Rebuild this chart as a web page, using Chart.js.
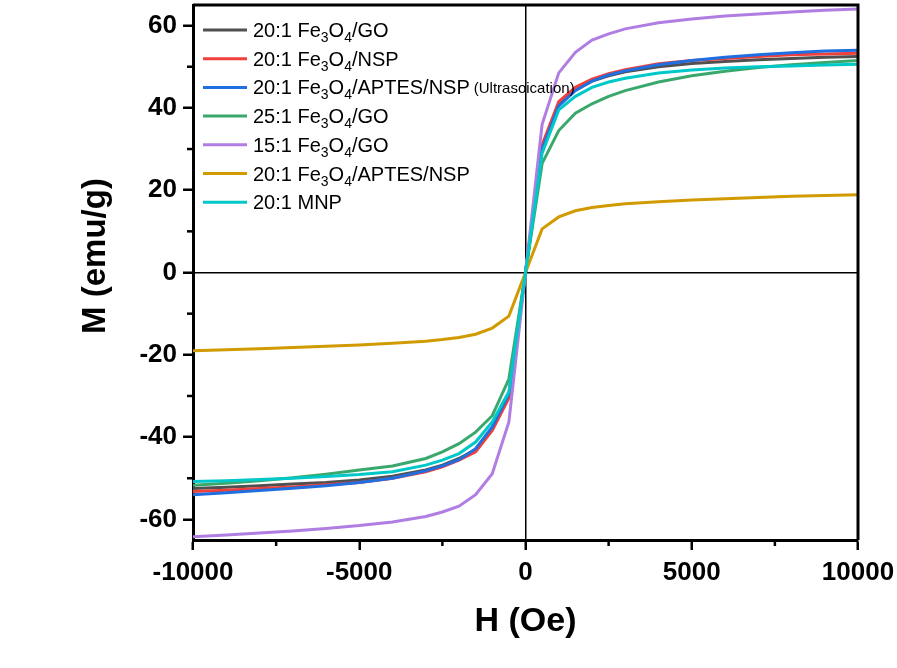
<!DOCTYPE html>
<html>
<head>
<meta charset="utf-8">
<script src="https://cdn.jsdelivr.net/npm/chart.js@4.4.1/dist/chart.umd.min.js"></script>
<style>
  html, body { margin: 0; padding: 0; background: #fff; }
  #wrap { width: 897px; height: 668px; }
</style>
</head>
<body>
<div id="wrap"><canvas id="myChart" width="897" height="668"></canvas></div>
<script>
// field values (Oe)
var fieldH = [-10000, -9000, -8000, -7000, -6000, -5000, -4000, -3000, -2500, -2000, -1500, -1000, -500, 0,
              500, 1000, 1500, 2000, 2500, 3000, 4000, 5000, 6000, 7000, 8000, 9000, 10000];

// magnetisation (emu/g), one list per sample
var mGO20   = [-52.5, -52.2, -51.8, -51.4, -51.0, -50.4, -49.5, -48.0, -46.8, -45.2, -43.0, -38.0, -30.0, 0,
               30.5, 41.0, 44.5, 46.5, 47.8, 48.8, 50.0, 50.8, 51.3, 51.7, 52.0, 52.3, 52.5];
var mNSP20  = [-53.2, -52.9, -52.5, -52.1, -51.6, -51.0, -50.0, -48.4, -47.2, -45.6, -43.6, -38.4, -30.5, 0,
               31.0, 41.5, 45.0, 47.0, 48.3, 49.3, 50.7, 51.5, 52.0, 52.5, 52.9, 53.1, 53.3];
var mAPTESu = [-54.0, -53.5, -53.0, -52.4, -51.8, -51.0, -50.0, -48.2, -47.0, -45.5, -42.8, -37.5, -29.5, 0,
               30.0, 40.5, 44.2, 46.5, 48.0, 49.0, 50.5, 51.5, 52.3, 52.9, 53.4, 53.8, 54.0];
var mGO25   = [-51.7, -51.2, -50.6, -49.9, -49.0, -48.0, -47.0, -45.2, -43.6, -41.6, -38.8, -34.8, -25.9, 0,
               26.5, 34.5, 38.7, 41.0, 42.8, 44.2, 46.3, 47.8, 48.9, 49.8, 50.5, 51.0, 51.5];
var mGO15   = [-64.2, -63.8, -63.3, -62.8, -62.2, -61.5, -60.6, -59.3, -58.2, -56.8, -54.0, -48.9, -36.3, 0,
               36.0, 48.5, 53.5, 56.5, 58.0, 59.2, 60.7, 61.6, 62.3, 62.8, 63.3, 63.7, 64.0];
var mAPTES  = [-19.0, -18.8, -18.5, -18.2, -17.9, -17.6, -17.2, -16.7, -16.3, -15.8, -15.0, -13.5, -10.6, 0,
               10.6, 13.5, 15.0, 15.8, 16.3, 16.7, 17.2, 17.6, 17.9, 18.2, 18.5, 18.7, 18.9];
var mMNP20  = [-50.8, -50.6, -50.3, -50.0, -49.6, -49.1, -48.4, -46.8, -45.6, -44.0, -41.2, -36.3, -29.0, 0,
               29.0, 39.5, 42.8, 45.0, 46.3, 47.2, 48.5, 49.2, 49.7, 50.0, 50.2, 50.4, 50.6];

// "_3" marks a subscript digit
var seriesLabels = ['20:1 Fe_3O_4/GO', '20:1 Fe_3O_4/NSP', '20:1 Fe_3O_4/APTES/NSP', '25:1 Fe_3O_4/GO',
                    '15:1 Fe_3O_4/GO', '20:1 Fe_3O_4/APTES/NSP', '20:1 MNP'];
var seriesNotes = ['', '', '(Ultrasoication)', '', '', '', ''];
var seriesData = [mGO20, mNSP20, mAPTESu, mGO25, mGO15, mAPTES, mMNP20];
var seriesColors = ['#505050', '#f0403c', '#1f6fe0', '#3aa86c', '#b07ee2', '#d09a00', '#00c8c8'];

var xTicks = [-10000, -5000, 0, 5000, 10000];
var yTicks = [-60, -40, -20, 0, 20, 40, 60];
var yMinor = [-50, -30, -10, 10, 30, 50];
var xMinor = [-7500, -2500, 2500, 7500];

var datasets = [];
for (var i = 0; i < seriesData.length; i++) {
  datasets.push({
    label: seriesLabels[i],
    data: fieldH.map(function(h, k) { return {x: h, y: seriesData[i][k]}; }),
    borderColor: seriesColors[i],
    backgroundColor: seriesColors[i],
    borderWidth: 3,
    pointRadius: 0,
    tension: 0,
    fill: false,
    order: seriesData.length - i
  });
}

// frame, minor ticks, y title and the legend with subscripts
var extrasPlugin = {
  id: 'extras',
  afterDraw: function(chart) {
    var ctx = chart.ctx, a = chart.chartArea;
    var xs = chart.scales.x, ys = chart.scales.y;
    ctx.save();
    ctx.strokeStyle = '#000';
    ctx.lineWidth = 3;
    ctx.beginPath();
    ctx.moveTo(a.left, a.top); ctx.lineTo(a.right, a.top); ctx.lineTo(a.right, a.bottom);
    ctx.stroke();

    ctx.lineWidth = 2.5;
    yMinor.forEach(function(v) {
      var p = ys.getPixelForValue(v);
      ctx.beginPath(); ctx.moveTo(a.left, p); ctx.lineTo(a.left - 6, p); ctx.stroke();
    });
    xMinor.forEach(function(v) {
      var p = xs.getPixelForValue(v);
      ctx.beginPath(); ctx.moveTo(p, a.bottom); ctx.lineTo(p, a.bottom + 6); ctx.stroke();
    });

    // y axis title
    ctx.save();
    ctx.translate(96, 256);
    ctx.rotate(-Math.PI / 2);
    ctx.font = 'bold 33px "Liberation Sans", Arial, sans-serif';
    ctx.fillStyle = '#000';
    ctx.textAlign = 'center';
    ctx.textBaseline = 'middle';
    ctx.fillText('M (emu/g)', 0, 0);
    ctx.restore();

    // legend
    var x0 = a.left + 10, rowY = a.top + 25, step = 28.7;
    ctx.textBaseline = 'alphabetic';
    ctx.textAlign = 'left';
    chart.data.datasets.forEach(function(ds, i) {
      var y = rowY + i * step;
      ctx.strokeStyle = ds.borderColor;
      ctx.lineWidth = 3;
      ctx.beginPath(); ctx.moveTo(x0, y); ctx.lineTo(x0 + 44, y); ctx.stroke();
      ctx.fillStyle = '#000';
      var tx = x0 + 50, base = y + 7;
      var parts = ds.label.split(/_(\d)/);
      parts.forEach(function(p, k) {
        if (k % 2 === 1) {
          ctx.font = '14px "Liberation Sans", Arial, sans-serif';
          ctx.fillText(p, tx, base + 5);
        } else {
          ctx.font = '20px "Liberation Sans", Arial, sans-serif';
          ctx.fillText(p, tx, base);
        }
        tx += ctx.measureText(p).width;
      });
      if (seriesNotes[i]) {
        ctx.font = '15px "Liberation Sans", Arial, sans-serif';
        ctx.fillText(seriesNotes[i], tx + 4, base - 1);
      }
    });
    ctx.restore();
  }
};

var tickFont = { family: '"Liberation Sans", Arial, sans-serif', size: 26, weight: 'bold' };
function zeroLine(c) { return c.tick && c.tick.value === 0 ? '#000' : 'rgba(0,0,0,0)'; }

var ctx = document.getElementById('myChart').getContext('2d');
var myChart = new Chart(ctx, {
  type: 'line',
  data: { datasets: datasets },
  options: {
    responsive: false,
    animation: false,
    layout: { padding: { left: 0, top: 5, right: 39, bottom: 0 } },
    plugins: { legend: { display: false }, tooltip: { enabled: false } },
    scales: {
      x: {
        type: 'linear',
        min: -10000, max: 10000,
        afterBuildTicks: function(s) { s.ticks = xTicks.map(function(v) { return {value: v}; }); },
        ticks: { color: '#000', font: tickFont, padding: 7, maxRotation: 0,
                 callback: function(v) { return String(v); } },
        grid: { color: zeroLine, lineWidth: 1.5, tickColor: '#000', tickLength: 10, tickWidth: 2.5 },
        border: { display: true, color: '#000', width: 3 },
        title: {
          display: true, text: 'H (Oe)', color: '#000',
          font: { family: '"Liberation Sans", Arial, sans-serif', size: 34, weight: 'bold' },
          padding: { top: 0, bottom: 26 }
        },
        afterFit: function(s) { s.height = 128; s.paddingLeft = 0; s.paddingRight = 0; }
      },
      y: {
        min: -65, max: 65,
        afterBuildTicks: function(s) { s.ticks = yTicks.map(function(v) { return {value: v}; }); },
        ticks: { color: '#000', font: tickFont, padding: 6 },
        grid: { color: zeroLine, lineWidth: 1.5, tickColor: '#000', tickLength: 10, tickWidth: 2.5 },
        border: { display: true, color: '#000', width: 3 },
        afterFit: function(s) { s.width = 193; s.paddingTop = 0; s.paddingBottom = 0; }
      }
    }
  },
  plugins: [extrasPlugin]
});
</script>
</body>
</html>
